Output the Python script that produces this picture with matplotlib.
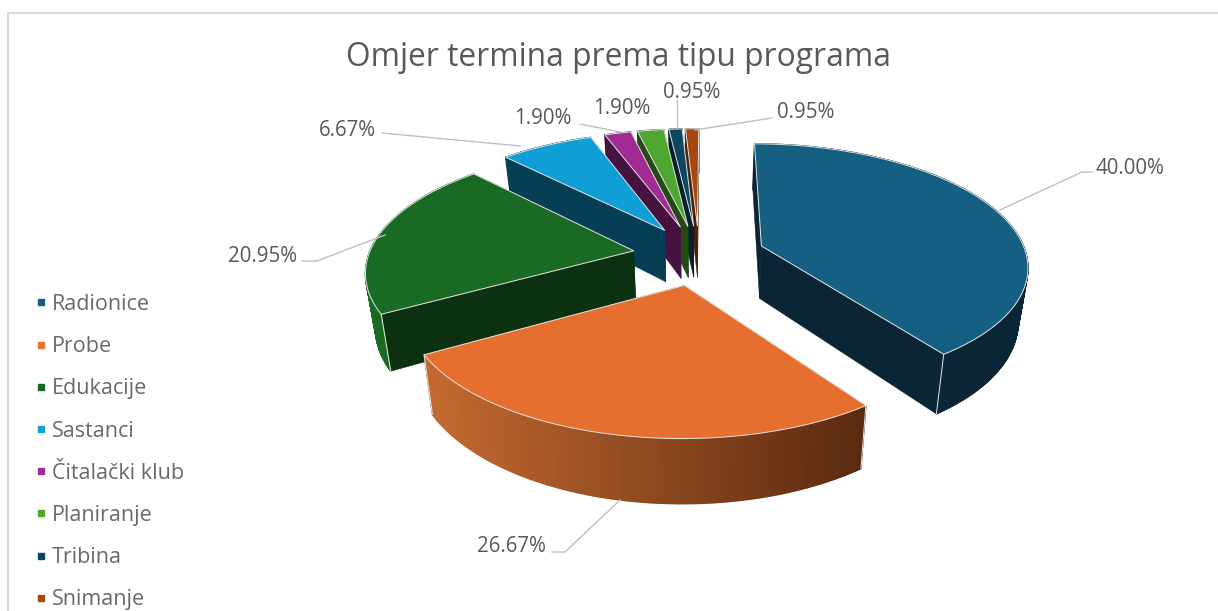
import numpy as np
import matplotlib
matplotlib.use("Agg")
import matplotlib.pyplot as plt
from matplotlib.lines import Line2D
from matplotlib.colors import to_rgb

plt.rcParams['font.family'] = ['Open Sans', 'DejaVu Sans']

categories = ["Radionice", "Probe", "Edukacije", "Sastanci", "Čitalački klub", "Planiranje", "Tribina", "Snimanje"]
values = [40.00, 26.67, 20.95, 6.67, 1.90, 1.90, 0.95, 0.95]
value_labels = ["40.00%", "26.67%", "20.95%", "6.67%", "1.90%", "1.90%", "0.95%", "0.95%"]
top_colors = ["#156082", "#E66F2F", "#196B24", "#0F9ED5", "#A02B93", "#4EA72E", "#0F4761", "#A5470F"]
face_colors = ["#0A2636", "#5A2A10", "#0C3110", "#063F55", "#46123F", "#234A14", "#06202C", "#4A2008"]
rim_from = ["#0A2636", "#C46A30", "#1A6A24", "#063F55", "#46123F", "#234A14", "#06202C", "#4A2008"]
rim_to = ["#0A2636", "#5A2A10", "#1A6A24", "#063F55", "#46123F", "#234A14", "#06202C", "#4A2008"]
title = "Omjer termina prema tipu programa"

# Label text anchor (x, y, ha) and leader-line vertices, in picture pixels
label_pos = [(1096, 168, "left"), (546, 547, "right"), (297, 256, "right"), (376, 130, "right"),
             (543, 119, "center"), (622, 108, "center"), (692, 93, "center"), (806, 113, "center")]
leaders = [[(1000, 210), (1082, 172), (1092, 172)],
           [(620, 500), (565, 552), (552, 552)],
           [(385, 235), (317, 261), (302, 261)],
           [(520, 146), (382, 133)],
           [(620, 132), (580, 124)],
           [],
           [(677, 128), (677, 100)],
           [(695, 130), (772, 118)]]

# Projection of the exploded pie
CX, CY = 699, 255
RX, RY = 265, 120
PERSP = 0.15
EXPLODE = 0.25
DEPTH = 53
ROT = 0.3
TAPER = 0.97
W, H = 1218, 611


def project(X, Y):
    s = 1.0 / (1.0 - PERSP * Y)
    return CX + RX * X * s, CY + RY * Y * s, DEPTH * s


def lower(x):
    return CX + (x - CX) * TAPER


def wedge(a0, a1):
    m = np.radians((a0 + a1) / 2)
    ox, oy = EXPLODE * np.sin(m), -EXPLODE * np.cos(m)
    t = np.radians(np.linspace(a0, a1, max(int(a1 - a0) * 2, 4)))
    ax_, ay_, ad = project(np.array([ox]), np.array([oy]))
    x, y, d = project(ox + np.sin(t), oy - np.cos(t))
    return (ax_[0], ay_[0], ad[0]), x, y, d


fig = plt.figure(figsize=(W / 100, H / 100), dpi=100, facecolor="white")
ax = fig.add_axes([0, 0, 1, 1])
ax.set_xlim(0, W)
ax.set_ylim(H, 0)
ax.axis("off")

# chart frame
ax.plot([7.5, 7.5, W + 5], [H + 5, 12.5, 12.5], color="#D9D9D9", lw=1.5)

starts = ROT + np.concatenate([[0], np.cumsum(values)[:-1]]) * 360 / sum(values)
ends = ROT + np.cumsum(values) * 360 / sum(values)
EDGE = "#E4E4E4"

for i in [7, 6, 5, 4, 3, 0, 2, 1]:
    (ax0, ay0, ad0), x, y, d = wedge(starts[i], ends[i])
    bx0 = lower(ax0)
    bx = lower(x)
    # radial side faces
    for xe, ye, de, bxe in ((x[0], y[0], d[0], bx[0]), (x[-1], y[-1], d[-1], bx[-1])):
        ax.fill([ax0, xe, bxe, bx0], [ay0, ye, ye + de, ay0 + ad0],
                color=face_colors[i], lw=0.4)
    # outer rim, shaded along its length
    c0, c1 = np.array(to_rgb(rim_from[i])), np.array(to_rgb(rim_to[i]))
    xmin, xmax = x.min(), x.max()
    for j in range(len(x) - 1):
        f = (x[j] - xmin) / max(xmax - xmin, 1)
        col = tuple(c0 + (c1 - c0) * f)
        ax.fill([x[j], x[j + 1], bx[j + 1], bx[j]],
                [y[j], y[j + 1], y[j + 1] + d[j + 1], y[j] + d[j]],
                facecolor=col, edgecolor=col, lw=1.0)
    # top surface
    ax.fill(np.r_[ax0, x], np.r_[ay0, y], facecolor=top_colors[i], edgecolor=EDGE, lw=0.7)
    # highlighted vertical corners
    for xe, ye, de, bxe in ((x[0], y[0], d[0], bx[0]), (x[-1], y[-1], d[-1], bx[-1])):
        if ye > ay0 - 5 and i < 3:
            ax.plot([xe, bxe], [ye, ye + de], color=EDGE, lw=0.7)

for lab, (tx, ty, ha), pts in zip(value_labels, label_pos, leaders):
    ax.text(tx, ty, lab, ha=ha, va="center", fontsize=14.8, color="#595959")
    if pts:
        px, py = zip(*pts)
        ax.plot(px, py, color="#BFBFBF", lw=1.0)

ax.text(618, 57, title, ha="center", va="center", fontsize=22.9, color="#595959")

handles = [Line2D([], [], linestyle="", marker="s", markersize=4.2, color=c) for c in top_colors]
ax.legend(handles, categories, loc="upper left", bbox_to_anchor=(36 / W, 1 - 294 / H),
          frameon=False, fontsize=15.5, labelcolor="#6A6A6A", labelspacing=0.985,
          handlelength=0.5, handletextpad=0.25, borderpad=0, borderaxespad=0)

fig.savefig("out.png", dpi=100)
